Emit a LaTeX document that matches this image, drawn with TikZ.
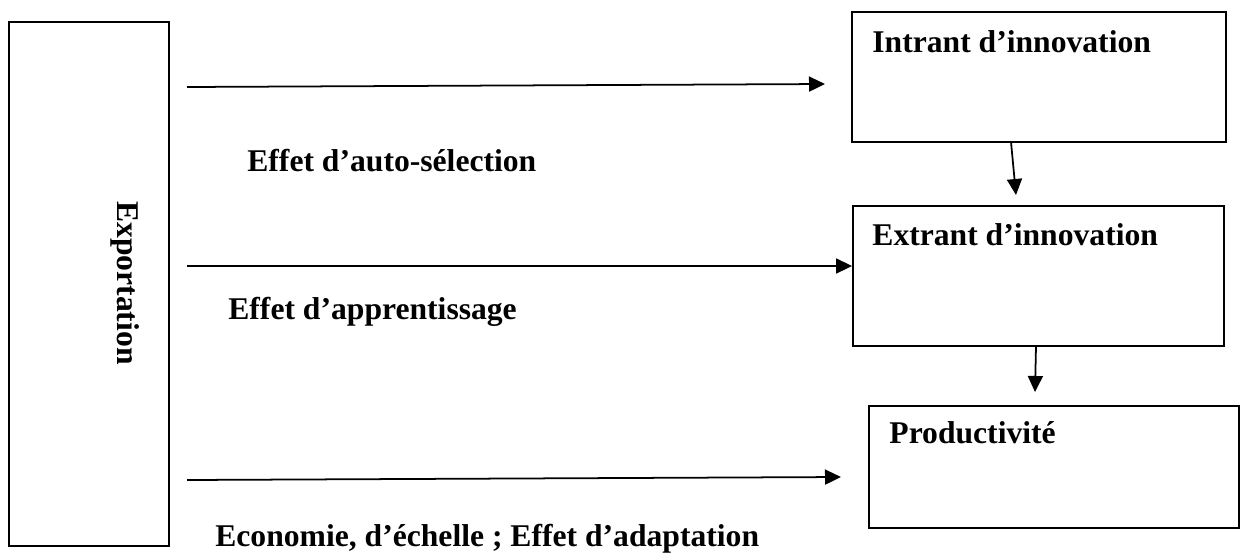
\documentclass[tikz,border=0pt]{standalone}
\usepackage{fontspec}
\setmainfont{Liberation Serif}
\usetikzlibrary{arrows.meta}

\tikzset{
  box/.style={draw, line width=1.1pt, inner sep=0pt},
  title/.style={font=\fontsize{18}{22}\selectfont\bfseries, inner sep=0pt},
  flow/.style={line width=1pt, -{Triangle[length=0.32cm, width=0.3cm]}}
}

\begin{document}
\begin{tikzpicture}[x=0.02cm, y=-0.02cm]

\useasboundingbox (0,0) rectangle (1240,552);

\node[box, minimum width=3.2cm, minimum height=10.48cm] (expo) at (89,284) {};
\node[title, rotate=-90] (expotext) at (125,283) {Exportation};

\node[box, minimum width=7.48cm, minimum height=2.6cm,
  label={[title, anchor=north west, xshift=0.42cm, yshift=-0.38cm]north west:{Intrant d’innovation}}]
  (intrant) at (1039,77) {};
\node[box, minimum width=7.42cm, minimum height=2.8cm,
  label={[title, anchor=north west, xshift=0.4cm, yshift=-0.36cm]north west:{Extrant d’innovation}}]
  (extrant) at (1038.5,276) {};
\node[box, minimum width=7.4cm, minimum height=2.44cm,
  label={[title, anchor=north west, xshift=0.42cm, yshift=-0.32cm]north west:{Productivité}}]
  (produc) at (1054,467) {};

\coordinate (a1s) at (187,87);
\coordinate (a1e) at (825,84);
\coordinate (a2s) at (187,266);
\coordinate (a3s) at (187,480);
\coordinate (a3e) at (841,477);
\coordinate (ie) at (1011,142);
\coordinate (iee) at (1016,195);
\coordinate (ep) at (1036,346);
\coordinate (epe) at (1035,392);

\draw[flow] (a1s) -- (a1e);
\draw[flow] (a2s) -- (a2s -| extrant.west);
\draw[flow] (a3s) -- (a3e);
\draw[flow] (ie) -- (iee);
\draw[flow] (ep) -- (epe);

\node[title, anchor=base west] (selec) at (247,171) {Effet d’auto-sélection};
\node[title, anchor=base west] (appren) at (228,319) {Effet d’apprentissage};
\node[title, anchor=base west] (echelle) at (215,546) {Economie, d’échelle ; Effet d’adaptation};

\end{tikzpicture}
\end{document}
